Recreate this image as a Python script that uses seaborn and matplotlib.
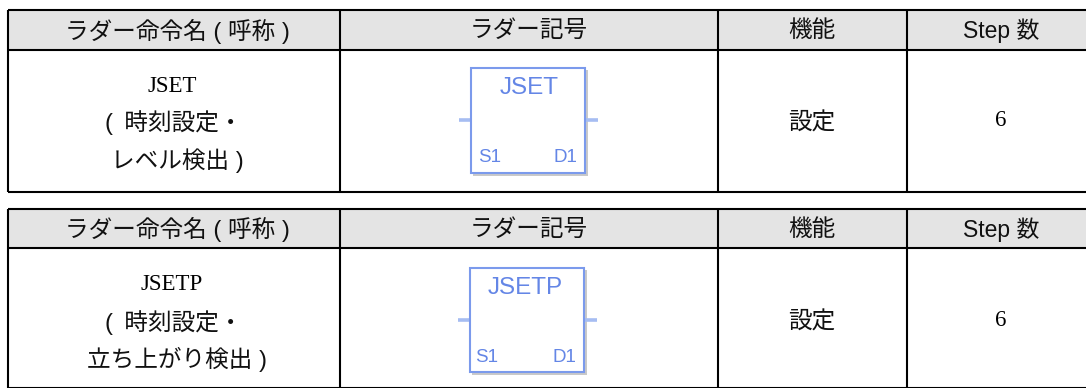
import matplotlib
matplotlib.use("Agg")
import matplotlib.pyplot as plt
from matplotlib.patches import Rectangle
import seaborn as sns

headers = ["ラダー命令名 ( 呼称 )", "ラダー記号", "機能", "Step 数"]
names = ["JSET", "JSETP"]
descriptions = [["(\u2009 時刻設定・", "レベル検出 )"], ["(\u2009 時刻設定・", "立ち上がり検出 )"]]
functions = ["設定", "設定"]
steps = ["6", "6"]
operands = ["S1", "D1"]

sns.set_theme(style="white")
SANS = ["Liberation Sans", "Noto Sans CJK JP"]
SERIF = ["Liberation Serif", "Noto Sans CJK JP"]
plt.rcParams["font.family"] = SANS

col_edges = [8, 340, 718, 907, 1086]
col_mid = [177, 529, 812, 1001]
tops = [10, 209]
head_bottoms = [50, 248]
bottoms = [192, 387.5]
name_y = [87, 285]
desc_y = [[123, 161], [323, 359]]
mid_y = [123, 322]
boxes = [(471, 68, 114, 105), (470, 268, 114, 104)]

BLUE = "#7b9aec"
TXT_BLUE = "#6486e6"
STUB = "#a6bdf2"
FS = 17

fig = plt.figure(figsize=(10.86, 3.88), dpi=100)
ax = fig.add_axes([0, 0, 1, 1])
ax.set_xlim(0, 1086)
ax.set_ylim(388, 0)
ax.axis("off")

for i in range(2):
    top, hb, bot = tops[i], head_bottoms[i], bottoms[i]
    ax.add_patch(Rectangle((8, top), 1078, hb - top, fc="#e4e4e4", ec="none", zorder=1))
    ax.hlines([top, hb, bot], 8, 1086, color="black", lw=1.5, zorder=3)
    ax.vlines(col_edges[:-1], top, bot, color="black", lw=1.5, zorder=3)

    for x, h in zip(col_mid, headers):
        size = 16.5 if h.startswith("Step") else FS
        ax.text(x, (top + hb) / 2 + 1, h, ha="center", va="center", fontsize=size, color="#111111")

    ax.text(172, name_y[i], names[i], ha="center", va="center", fontsize=16.5,
            family=SERIF, color="black")
    ax.text(105, desc_y[i][0], descriptions[i][0], ha="left", va="center", fontsize=FS, color="#111111")
    ax.text(col_mid[0], desc_y[i][1], descriptions[i][1], ha="center", va="center", fontsize=FS, color="#111111")
    ax.text(col_mid[2], mid_y[i], functions[i], ha="center", va="center", fontsize=FS, color="#111111")
    ax.text(col_mid[3], mid_y[i] - 2, steps[i], ha="center", va="center", fontsize=16.5, family=SERIF,
            color="black")

    # ladder block
    x, y, w, h = boxes[i]
    ax.add_patch(Rectangle((x + 2, y + 2), w + 1, h + 1, fc="#c9c9c9", ec="none", zorder=2))
    ax.add_patch(Rectangle((x, y), w, h, fc="white", ec=BLUE, lw=1.5, zorder=2.5))
    ax.hlines(y + 52, x - 12, x, color=STUB, lw=2.6, zorder=2)
    ax.hlines(y + 52, x + w, x + w + 13, color=STUB, lw=2.6, zorder=2)
    ax.text(x + w / 2 + (1 if i == 0 else -2), y + 20, names[i], ha="center", va="center", fontsize=17.5,
            color=TXT_BLUE, zorder=4)
    ax.text(x + 7 - i * 2, y + 90, operands[0], ha="left", va="center", fontsize=13.5, color=TXT_BLUE, zorder=4)
    ax.text(x + w - 8, y + 90, operands[1], ha="right", va="center", fontsize=13.5, color=TXT_BLUE, zorder=4)

fig.savefig("out.png", dpi=100, facecolor="white")
